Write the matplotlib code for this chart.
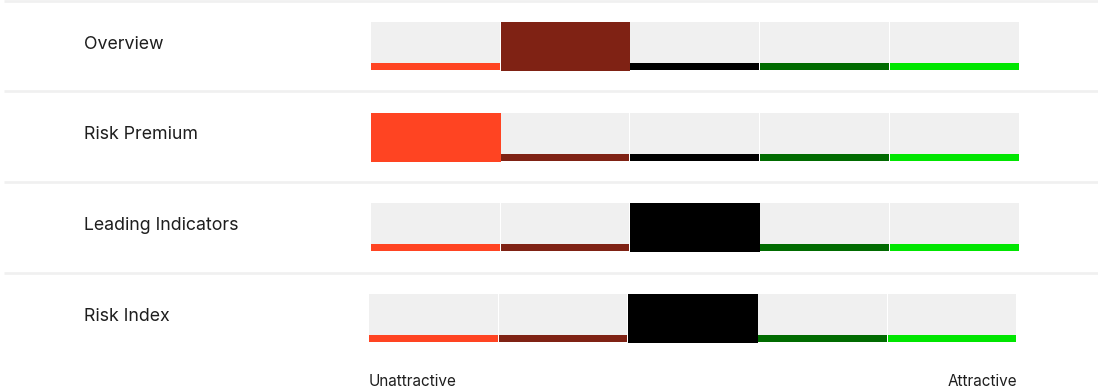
import matplotlib.pyplot as plt

# signal rows and which level each one currently sits on (0 = least attractive)
categories = ['Overview', 'Risk Premium', 'Leading Indicators', 'Risk Index']
selected = [1, 0, 2, 2]
level_colors = ['#ff4422', '#7f2214', '#000000', '#006b00', '#00e600']
scale_labels = ['Unattractive', 'Attractive']

plt.rcParams['font.family'] = ['Inter', 'DejaVu Sans']

W, H = 1098, 389
cell_px = 129.7          # width of one level cell in pixels
row_px = 90.67           # vertical pitch of a row in pixels
x0 = 371 / cell_px       # where level 0 starts

fig = plt.figure(figsize=(W / 100, H / 100), dpi=100)
ax = fig.add_axes([0, 0, 1, 1])
ax.set_xlim(-x0, W / cell_px - x0)
ax.set_ylim(H / row_px, 0)
ax.axis('off')

n = len(level_colors)
top = 0.243
cell_h = 0.529
strip_h = 0.077
gap = 1 / cell_px

for i, (name, sel) in enumerate(zip(categories, selected)):
    shift = -2 / cell_px if i == len(categories) - 1 else 0
    lefts = [k + shift for k in range(n)]
    # background cells
    ax.bar(lefts, [cell_h] * n, width=1 - gap, bottom=i + top,
           align='edge', color='#f0f0f0', linewidth=0)
    # colour strip along the bottom of each cell
    ax.bar(lefts, [strip_h] * n, width=1 - gap, bottom=i + top + cell_h - strip_h,
           align='edge', color=level_colors, linewidth=0)
    # the active level is filled completely
    ax.bar(sel + shift, cell_h + 0.011, width=1, bottom=i + top,
           align='edge', color=level_colors[sel], linewidth=0)

    ax.text((84 - 371) / cell_px, i + 0.536, name, fontsize=12.8, color='#1e1e1e',
            va='baseline', ha='left')
    # thin divider above every row
    ax.plot([(4 - 371) / cell_px, W / cell_px - x0], [i + 0.007, i + 0.007],
            color='#f0f0f0', linewidth=1.9, solid_capstyle='butt')

shift = -2 / cell_px
ax.text(0 + shift, 386 / row_px, scale_labels[0], fontsize=11, color='#1e1e1e',
        ha='left', va='baseline')
ax.text(n + shift, 386 / row_px, scale_labels[1], fontsize=11, color='#1e1e1e',
        ha='right', va='baseline')

fig.savefig('out.png', dpi=100)
